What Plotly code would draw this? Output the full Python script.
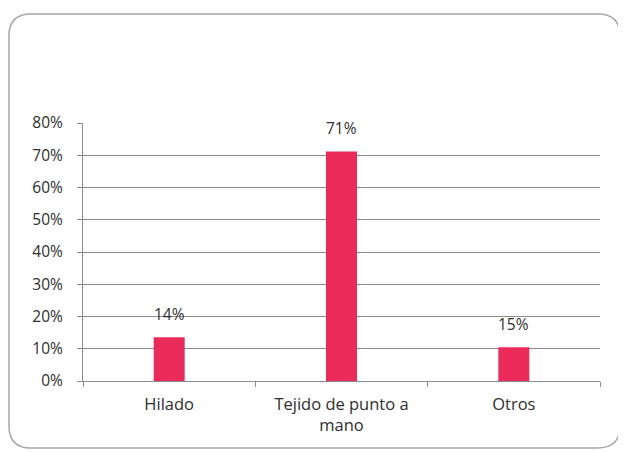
import plotly.graph_objects as go

categorias = ["Hilado", "Tejido de punto a<br>mano", "Otros"]
valores = [0.136, 0.712, 0.105]
etiquetas = ["14%", "71%", "15%"]
ticks_y = [0, 0.1, 0.2, 0.3, 0.4, 0.5, 0.6, 0.7, 0.8]
ticks_y_txt = ["0%", "10%", "20%", "30%", "40%", "50%", "60%", "70%", "80%"]

# la página tiene 8 px de margen en el body
OFF = 8
W, H = 626 - OFF, 452 - OFF
ML, MR, MT, MB = 83 - OFF, 26, 123 - OFF, 71
pw, ph = W - ML - MR, H - MT - MB

fig = go.Figure()
fig.add_trace(go.Bar(
    x=categorias, y=valores,
    marker=dict(color="#EB2C5B", line=dict(width=0)),
    width=0.18,
))

# etiquetas de datos, algo separadas de la barra
for c, v, t in zip(categorias, valores, etiquetas):
    fig.add_annotation(x=c, y=v, text=t, showarrow=False, yshift=23,
                       font=dict(size=15.5, color="#2E2E2E"))

# marco redondeado del gráfico (en píxeles -> coordenadas paper)
def px(x):
    return (x - OFF - ML) / pw

def py(y):
    return (H + OFF - MB - y) / ph

x0, x1, y0, y1, r = 9, 620, 14, 448, 22
path = (f"M {px(x0 + r)},{py(y0)} L {px(x1 - r)},{py(y0)} "
        f"Q {px(x1)},{py(y0)} {px(x1)},{py(y0 + r)} "
        f"L {px(x1)},{py(y1 - r)} Q {px(x1)},{py(y1)} {px(x1 - r)},{py(y1)} "
        f"L {px(x0 + r)},{py(y1)} Q {px(x0)},{py(y1)} {px(x0)},{py(y1 - r)} "
        f"L {px(x0)},{py(y0 + r)} Q {px(x0)},{py(y0)} {px(x0 + r)},{py(y0)} Z")
fig.add_shape(type="path", path=path, xref="paper", yref="paper",
              line=dict(color="#A6A6A6", width=1.5), layer="below")

fig.update_layout(
    width=W, height=H,
    margin=dict(l=ML, r=MR, t=MT, b=MB),
    paper_bgcolor="white", plot_bgcolor="white",
    showlegend=False,
    font=dict(family="Open Sans, Liberation Sans, sans-serif", size=15, color="#2E2E2E"),
    bargap=0.82,
    xaxis=dict(
        showgrid=False, showline=True, linecolor="#8C8C8C", linewidth=1,
        ticks="outside", tickson="boundaries", ticklen=5, tickcolor="#8C8C8C",
        tickfont=dict(size=16.5, color="#2E2E2E"), ticklabelstandoff=8,
    ),
    yaxis=dict(
        range=[0, 0.8], tickvals=ticks_y, ticktext=ticks_y_txt,
        showgrid=True, gridcolor="#8C8C8C", gridwidth=1,
        showline=True, linecolor="#8C8C8C", linewidth=1,
        ticks="outside", ticklen=5, tickcolor="#8C8C8C",
        tickfont=dict(size=15.5, color="#2E2E2E"), zeroline=False,
        ticklabelstandoff=11,
    ),
)

fig.write_html("out.html")
